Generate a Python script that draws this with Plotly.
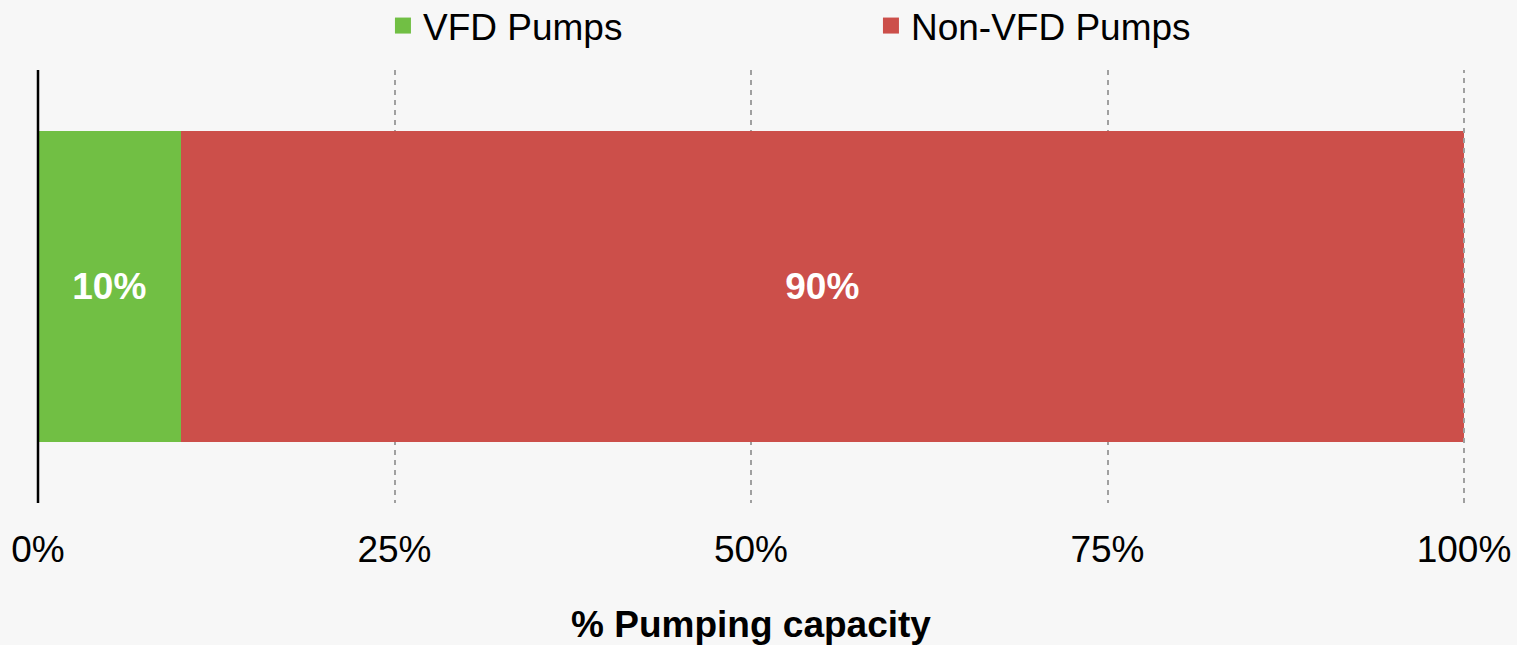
import plotly.graph_objects as go

categories = ["Pumps"]
series_names = ["VFD Pumps", "Non-VFD Pumps"]
vfd_values = [10]
non_vfd_values = [90]
tick_values = [0, 25, 50, 75, 100]
tick_labels = ["0%", "25%", "50%", "75%", "100%"]

GREEN = "#71BF44"
RED = "#CC4F4A"
BG = "#F7F7F7"
GRID = "#A0A0A0"
FONT = "Liberation Sans, Arial, sans-serif"

fig = go.Figure()
for name, vals, col in [(series_names[0], vfd_values, GREEN), (series_names[1], non_vfd_values, RED)]:
    fig.add_trace(go.Bar(
        y=categories, x=vals, name=name, orientation="h",
        marker=dict(color=col, line=dict(width=0)),
        text=[f"{v}%" for v in vals], textposition="inside",
        insidetextanchor="middle",
        textfont=dict(color="white", size=37, family=FONT, weight="bold"),
        showlegend=False, hoverinfo="skip",
    ))
    # legend proxy
    fig.add_trace(go.Scatter(
        x=[None], y=[None], mode="markers", name=name,
        marker=dict(symbol="square", size=16, color=col),
        showlegend=True,
    ))

fig.update_layout(
    width=1517, height=645,
    paper_bgcolor=BG, plot_bgcolor=BG,
    barmode="stack", bargap=0.284,
    margin=dict(l=38, r=53, t=70, b=142, autoexpand=False),
    font=dict(family=FONT, color="black", size=37),
    legend=dict(
        orientation="h", x=0.2419, xanchor="left", y=1.03, yanchor="bottom",
        font=dict(size=37, family=FONT), entrywidth=443, entrywidthmode="pixels",
        bgcolor="rgba(0,0,0,0)", itemclick=False, traceorder="normal",
    ),
    xaxis=dict(
        range=[0, 100], tickvals=tick_values, ticktext=tick_labels,
        showgrid=True, gridcolor=GRID, gridwidth=2, griddash="5px,5px",
        zeroline=False, showline=False, ticks="", ticklabelstandoff=21,
        tickfont=dict(size=37),
        title=dict(text="<b>% Pumping capacity</b>", font=dict(size=37), standoff=43),
        fixedrange=True,
    ),
    yaxis=dict(
        range=[-0.5, 0.5], showticklabels=False, showgrid=False, zeroline=False,
        showline=False, fixedrange=True,
    ),
    shapes=[
        dict(type="line", xref="paper", yref="paper", x0=1, x1=1, y0=0, y1=1,
             line=dict(color=GRID, width=2, dash="5px,5px"), layer="above"),
        dict(type="line", xref="paper", yref="paper", x0=0, x1=0, y0=0, y1=1,
             line=dict(color="black", width=2.5), layer="above"),
    ],
)

fig.write_html(
    "out.html",
    config={"displayModeBar": False},
    post_script="document.body.style.margin='0px';document.body.style.background='#F7F7F7';",
)
